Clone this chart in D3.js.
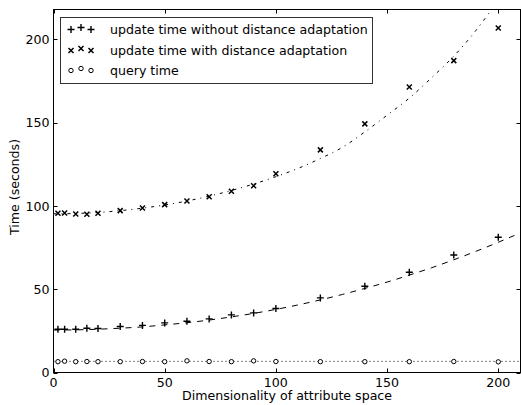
<!DOCTYPE html>
<html>
<head>
<meta charset="utf-8">
<script src="https://d3js.org/d3.v7.min.js"></script>
<style>
  body { margin: 0; background: #fff; }
  svg text { font-family: "DejaVu Sans", sans-serif; font-size: 12.6px; fill: #000; }
</style>
</head>
<body>
<div id="chart"></div>
<script>
// measured points
var dims = [2, 5, 10, 15, 20, 30, 40, 50, 60, 70, 80, 90, 100, 120, 140, 160, 180, 200]
var withoutAdapt = [26.0, 26.0, 26.0, 26.6, 26.4, 27.6, 28.3, 29.8, 30.8, 32.2, 34.6, 35.8, 38.4, 44.8, 51.8, 60.2, 70.6, 81.2]
var withAdapt = [95.6, 95.8, 95.2, 95.0, 95.6, 97.2, 98.8, 100.8, 103.0, 105.5, 108.9, 112.1, 119.4, 133.7, 149.3, 171.5, 187.3, 206.9]
var queryTime = [6.5, 6.8, 6.5, 6.6, 6.5, 6.5, 6.6, 6.5, 7.0, 6.6, 6.5, 7.0, 6.6, 6.5, 6.5, 6.5, 6.6, 6.4]

// fitted curves
var fitX = [0, 10, 20, 30, 40, 50, 60, 70, 80, 90, 100, 110, 120, 130, 140, 150, 160, 170, 180, 190, 200, 210]
var fitWithout = [25.5, 25.6, 26.0, 26.6, 27.4, 28.6, 29.9, 31.5, 33.4, 35.5, 37.9, 40.6, 43.6, 46.9, 50.5, 54.3, 58.5, 62.9, 67.7, 72.8, 78.2, 83.9]
var fitWith = [95.3, 95.5, 96.1, 97.2, 98.7, 100.6, 103.0, 105.9, 109.3, 113.2, 117.6, 122.6, 128.5, 135.3, 144.5, 154.5, 164.8, 177.0, 190.0, 205.5, 224.0, 246.0]
var fitQuery = [6.7, 6.7, 6.7, 6.7, 6.7, 6.7, 6.7, 6.7, 6.7, 6.7, 6.7, 6.7, 6.7, 6.7, 6.7, 6.7, 6.7, 6.7, 6.7, 6.7, 6.7, 6.7]

var xTicks = [0, 50, 100, 150, 200]
var yTicks = [0, 50, 100, 150, 200]
var legendLabels = ["update time without distance adaptation", "update time with distance adaptation", "query time"]

var W = 521, H = 405
var pLeft = 53.5, pRight = 520.5, pTop = 9.5, pBottom = 372.5

var x = d3.scaleLinear().domain([0, 210]).range([pLeft, pRight])
var y = d3.scaleLinear().domain([0, 218]).range([pBottom, pTop])

var svg = d3.select("#chart").append("svg")
    .attr("width", W)
    .attr("height", H)

svg.append("clipPath").attr("id", "plot")
  .append("rect")
    .attr("x", pLeft).attr("y", pTop)
    .attr("width", pRight - pLeft).attr("height", pBottom - pTop)

// fit lines
function fitLine(vals, dash) {
  var line = d3.line()
      .x(function(d, i) { return x(fitX[i]); })
      .y(function(d) { return y(d); })
      .curve(d3.curveMonotoneX)
  svg.append("path")
      .datum(vals)
      .attr("clip-path", "url(#plot)")
      .attr("d", line)
      .attr("fill", "none")
      .attr("stroke", "#000")
      .attr("stroke-width", 1)
      .attr("stroke-dasharray", dash)
}
fitLine(fitWithout, "6,6")
fitLine(fitWith, "3,5,1,5")
fitLine(fitQuery, "1,3")

// marker shapes
function drawMarker(g, kind, cx, cy) {
  if (kind == "plus") {
    g.append("path")
      .attr("d", "M" + (cx - 3.5) + "," + cy + "H" + (cx + 3.5) + "M" + cx + "," + (cy - 3.5) + "V" + (cy + 3.5))
      .attr("stroke", "#000").attr("stroke-width", 1.4)
  } else if (kind == "x") {
    g.append("path")
      .attr("d", "M" + (cx - 2.5) + "," + (cy - 2.5) + "L" + (cx + 2.5) + "," + (cy + 2.5) +
                 "M" + (cx - 2.5) + "," + (cy + 2.5) + "L" + (cx + 2.5) + "," + (cy - 2.5))
      .attr("stroke", "#000").attr("stroke-width", 1.5)
  } else {
    g.append("circle")
      .attr("cx", cx).attr("cy", cy).attr("r", 2.2)
      .attr("fill", "#fff").attr("stroke", "#000").attr("stroke-width", 1)
  }
}

var series = [
  {kind: "plus", vals: withoutAdapt},
  {kind: "x", vals: withAdapt},
  {kind: "circle", vals: queryTime}
]
var marks = svg.append("g")
series.forEach(function(s) {
  s.vals.forEach(function(v, i) {
    drawMarker(marks, s.kind, x(dims[i]), y(v))
  })
})

// frame
svg.append("rect")
    .attr("x", pLeft).attr("y", pTop)
    .attr("width", pRight - pLeft).attr("height", pBottom - pTop)
    .attr("fill", "none").attr("stroke", "#000").attr("stroke-width", 1)

// inward ticks on all sides
var tk = 4
var ticks = svg.append("g").attr("stroke", "#000").attr("stroke-width", 1)
xTicks.forEach(function(t) {
  var px = Math.round(x(t)) + 0.5
  ticks.append("line").attr("x1", px).attr("x2", px).attr("y1", pBottom).attr("y2", pBottom - tk)
  ticks.append("line").attr("x1", px).attr("x2", px).attr("y1", pTop).attr("y2", pTop + tk)
  svg.append("text")
      .attr("x", x(t)).attr("y", pBottom + 14)
      .attr("text-anchor", "middle")
      .text(t)
})
yTicks.forEach(function(t) {
  var py = Math.round(y(t)) + 0.5
  ticks.append("line").attr("x1", pLeft).attr("x2", pLeft + tk).attr("y1", py).attr("y2", py)
  ticks.append("line").attr("x1", pRight).attr("x2", pRight - tk).attr("y1", py).attr("y2", py)
  svg.append("text")
      .attr("x", pLeft - 4).attr("y", y(t))
      .attr("dy", "0.36em")
      .attr("text-anchor", "end")
      .text(t)
})

// axis titles
svg.append("text")
    .attr("x", (pLeft + pRight) / 2).attr("y", 400)
    .attr("text-anchor", "middle")
    .text("Dimensionality of attribute space")

svg.append("text")
    .attr("transform", "translate(19,187) rotate(-90)")
    .attr("text-anchor", "middle")
    .text("Time (seconds)")

// legend
var legend = svg.append("g")
legend.append("rect")
    .attr("x", 60.5).attr("y", 17.5)
    .attr("width", 312).attr("height", 66)
    .attr("fill", "#fff").attr("stroke", "#333").attr("stroke-width", 1)

var rowY = [29.5, 50.5, 70.5]
var offs = [0, -2, 0]
series.forEach(function(s, i) {
  [71, 81, 91].forEach(function(mx, j) {
    drawMarker(legend, s.kind, mx, rowY[i] + offs[j])
  })
  legend.append("text")
      .attr("x", 110).attr("y", rowY[i])
      .attr("dy", "0.36em")
      .text(legendLabels[i])
})
</script>
</body>
</html>
